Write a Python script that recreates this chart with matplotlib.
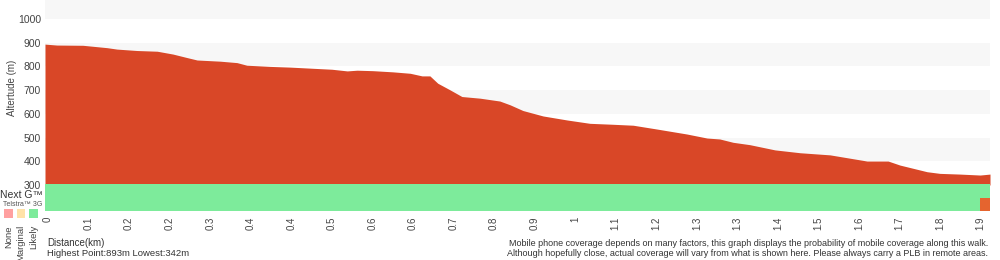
import matplotlib
matplotlib.use("Agg")
import matplotlib.pyplot as plt
from matplotlib.patches import Rectangle

plt.rcParams["font.family"] = ["Liberation Sans", "DejaVu Sans"]

# elevation profile (distance km, altitude m)
dist = [0, 0.024, 0.077, 0.126, 0.146, 0.187, 0.228, 0.260, 0.289, 0.309,
        0.356, 0.390, 0.410, 0.457, 0.498, 0.545, 0.583, 0.614, 0.634, 0.666,
        0.707, 0.742, 0.766, 0.782, 0.798, 0.823, 0.847, 0.884, 0.924, 0.945,
        0.971, 1.012, 1.061, 1.107, 1.154, 1.195, 1.243, 1.304, 1.345, 1.371,
        1.398, 1.432, 1.483, 1.534, 1.595, 1.670, 1.713, 1.737, 1.792, 1.818,
        1.859, 1.900, 1.920]
elev = [894, 890, 889, 879, 873, 867, 864, 852, 837, 827,
        822, 816, 805, 800, 797, 792, 788, 781, 784, 782,
        777, 771, 760, 760, 729, 701, 673, 666, 654, 638,
        614, 591, 574, 560, 556, 552, 536, 515, 498, 494,
        480, 470, 448, 436, 427, 401, 401, 384, 356, 349,
        346, 342, 346]

# x tick labels as printed (evenly spaced along the axis)
tick_labels = ["0", "0.1", "0.2", "0.2", "0.3", "0.4", "0.4", "0.5", "0.6", "0.6",
               "0.7", "0.8", "0.9", "1", "1.1", "1.2", "1.3", "1.3", "1.4", "1.5",
               "1.6", "1.7", "1.8", "1.9"]
tick_start = 0.006
tick_step = 0.0824

# coverage segments: (start km, end km, colour)
nextg_segments = [(0, 1.920, "#7deb9b")]
telstra3g_segments = [(0, 1.900, "#7deb9b"), (1.900, 1.920, "#e5642f")]

legend_names = ["None", "Marginal", "Likely"]
legend_colors = ["#ffa0a0", "#ffe2a8", "#7deb9b"]

W, H = 1000, 260
fig = plt.figure(figsize=(10, 2.6), dpi=100)

def fx(px):
    return px / W

def fy(py):
    return 1 - py / H

# elevation axes
ax = fig.add_axes([fx(45), fy(185), fx(990) - fx(45), fy(0) - fy(185)])
ax.set_xlim(0, 1.92)
ax.set_ylim(300, 1080)
for lo in [400, 600, 800, 1000]:
    ax.axhspan(lo, lo + 100, color="#f7f7f7", lw=0, zorder=0)
ax.fill_between(dist, elev, 300, color="#d94727", lw=0, zorder=2)
ax.set_yticks([300, 400, 500, 600, 700, 800, 900, 1000])
ax.tick_params(axis="y", length=0, labelsize=7.5, labelcolor="#444444", pad=3)
ax.set_xticks([])
for s in ax.spines.values():
    s.set_visible(False)
fig.text(fx(12), fy(88), "Altertude (m)", rotation=90, fontsize=7,
         color="#444444", ha="center", va="center")

# coverage axes
cax = fig.add_axes([fx(45), fy(211), fx(990) - fx(45), fy(184) - fy(211)])
cax.set_xlim(0, 1.92)
cax.set_ylim(0, 2)
for a, b, c in nextg_segments:
    cax.add_patch(Rectangle((a, 1), b - a, 1, color=c, lw=0))
for a, b, c in telstra3g_segments:
    cax.add_patch(Rectangle((a, 0), b - a, 1, color=c, lw=0))
cax.set_yticks([])
cax.set_xticks([tick_start + i * tick_step for i in range(len(tick_labels))])
cax.set_xticklabels(tick_labels, rotation=90, fontsize=7, color="#444444")
cax.tick_params(axis="x", length=0, pad=4)
for s in cax.spines.values():
    s.set_visible(False)

# left-hand labels
fig.text(fx(0), fy(195), "Next G\u2122", fontsize=7.5, color="#333333", va="center")
fig.text(fx(3), fy(205), "Telstra\u2122 3G", fontsize=5, color="#555555", va="center")
for i, (name, col) in enumerate(zip(legend_names, legend_colors)):
    x0 = 4 + i * 12.5
    fig.patches.append(Rectangle((fx(x0), fy(218)), fx(8.5), fy(209) - fy(218),
                                 transform=fig.transFigure, color=col, lw=0))
    fig.text(fx(x0 + 4.5), fy(225), name, rotation=90, fontsize=6.8,
             color="#444444", ha="center", va="top")

# footer text
fig.text(fx(47), fy(243), "Distance(km)", fontsize=7, color="#333333", va="center")
fig.text(fx(47), fy(253), "Highest Point:893m Lowest:342m", fontsize=6.8,
         color="#333333", va="center")
fig.text(fx(988), fy(243),
         "Mobile phone coverage depends on many factors, this graph displays the probability of mobile coverage along this walk.",
         fontsize=6.5, color="#333333", ha="right", va="center")
fig.text(fx(988), fy(254),
         "Although hopefully close, actual coverage will vary from what is shown here. Please always carry a PLB in remote areas.",
         fontsize=6.5, color="#333333", ha="right", va="center")

fig.savefig("out.png", dpi=100)
